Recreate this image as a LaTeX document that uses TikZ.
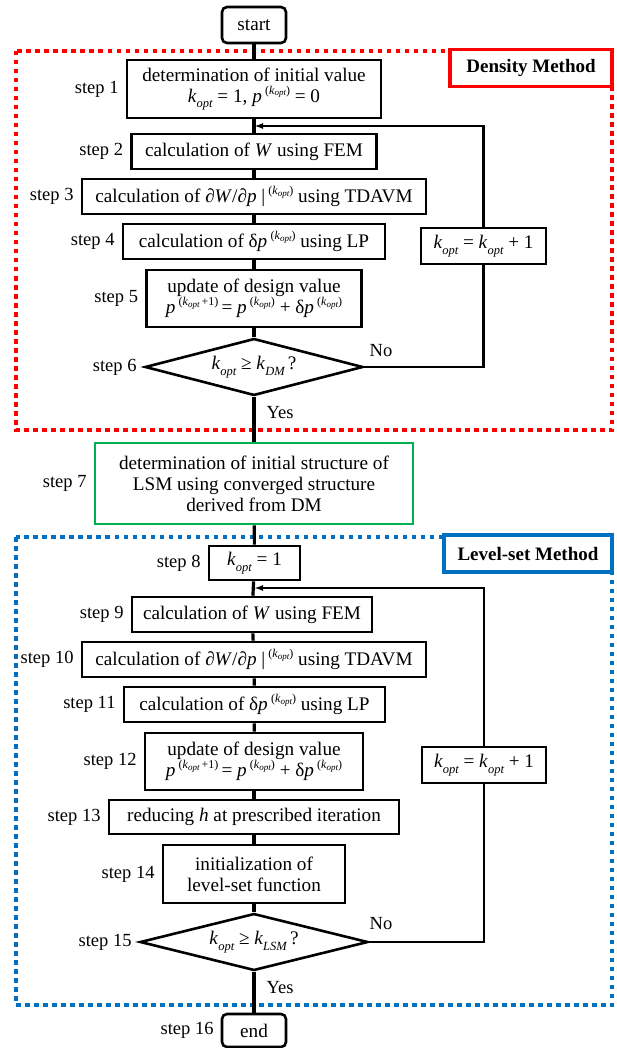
\documentclass[tikz,border=0pt]{standalone}
\usepackage{fontspec}
\setmainfont{Liberation Serif}
\usetikzlibrary{shapes.geometric,arrows.meta}
\definecolor{dmred}{RGB}{255,0,0}
\definecolor{lsblue}{RGB}{0,112,192}
\definecolor{lsgreen}{RGB}{0,176,80}
\newcommand\mysub[1]{\raisebox{-0.28em}{\fontsize{12.5}{12.5}\selectfont\itshape #1}}
\newcommand\kk{\textit{k}\mysub{opt}}
\newcommand\supk{\,\raisebox{0.42em}{\fontsize{12}{12}\selectfont(\textit{k}\raisebox{-0.15em}{\fontsize{9}{9}\selectfont\itshape opt})}}
\newcommand\supkp{\,\raisebox{0.42em}{\fontsize{12}{12}\selectfont(\textit{k}\raisebox{-0.15em}{\fontsize{9}{9}\selectfont\itshape opt}\,+1)}}
\tikzset{
  base/.style={font=\fontsize{19.2}{22}\selectfont},
  box/.style={base, draw, line width=2.6pt, fill=white, align=center, inner sep=0pt},
  term/.style={box, rounded corners=5pt},
  dec/.style={base, draw, line width=2.6pt, fill=white, diamond, aspect=3.8, inner sep=0pt},
  lbl/.style={font=\fontsize{18.5}{22}\selectfont, inner sep=0pt},
  mainline/.style={line width=3.2pt},
  loopline/.style={line width=2.4pt},
  tag/.style={fill=white, line width=3.5pt, minimum width=#1, minimum height=37, font=\bfseries\fontsize{19}{22}\selectfont, inner sep=0pt}
}
\begin{document}
\begin{tikzpicture}[x=1pt,y=-1pt]
\useasboundingbox (0,0) rectangle (616,1048);
% dotted regions
\draw[dmred, line width=4pt, dash pattern=on 4.5pt off 4.5pt] (16,51) rectangle (612,430);
\draw[lsblue, line width=4pt, dash pattern=on 4.5pt off 4.5pt] (16,537) rectangle (612,1005);

% nodes
\node[term, minimum width=64, minimum height=36] (start) at (254,25) {start};
\node[box, minimum width=254, minimum height=58] (s1) at (254,89) {determination of initial value\\[-1pt]\kk\ = 1, \textit{p}\supk\ = 0};
\node[box, minimum width=245, minimum height=35] (s2) at (254,151.5) {calculation of \textit{W} using FEM};
\node[box, minimum width=344, minimum height=35] (s3) at (254,196.5) {calculation of ∂\textit{W}/∂\textit{p} |\supk\ using TDAVM};
\node[box, minimum width=262, minimum height=35] (s4) at (254,241.5) {calculation of δ\textit{p}\supk\ using LP};
\node[box, minimum width=215, minimum height=57] (s5) at (254,298.5) {update of design value\\[-1pt]\textit{p}\supkp\,= \textit{p}\supk\ + δ\textit{p}\supk};
\node[dec, minimum width=218, minimum height=57] (d6) at (254,367) {\kk\ ≥ \textit{k}\mysub{DM}\,?};
\node[box, minimum width=125, minimum height=36] (k1) at (483.5,246) {\kk\ = \kk\ + 1};
\coordinate (c1) at (254,126);

\node[box, draw=lsgreen, minimum width=318, minimum height=81] (s7) at (254,483.5) {determination of initial structure of\\[-1pt]LSM using converged structure\\[-1pt]derived from DM};

\node[box, minimum width=91, minimum height=34] (s8) at (254.5,563) {\kk\ = 1};
\coordinate (c2) at (254,588);
\node[box, minimum width=240, minimum height=35] (s9) at (252,614.5) {calculation of \textit{W} using FEM};
\node[box, minimum width=344, minimum height=35] (s10) at (254,659.5) {calculation of ∂\textit{W}/∂\textit{p} |\supk\ using TDAVM};
\node[box, minimum width=261, minimum height=35] (s11) at (254.5,704.5) {calculation of δ\textit{p}\supk\ using LP};
\node[box, minimum width=218, minimum height=57] (s12) at (254,761.5) {update of design value\\[-1pt]\textit{p}\supkp\,= \textit{p}\supk\ + δ\textit{p}\supk};
\node[box, minimum width=290, minimum height=34] (s13) at (254,817) {reducing \textit{h} at prescribed iteration};
\node[box, minimum width=182, minimum height=58] (s14) at (254,874) {initialization of\\[-1pt]level-set function};
\node[dec, minimum width=228, minimum height=57] (d15) at (254,942) {\kk\ ≥ \textit{k}\mysub{LSM}\,?};
\node[box, minimum width=124, minimum height=36] (k2) at (484,765) {\kk\ = \kk\ + 1};
\node[term, minimum width=64, minimum height=33] (end) at (254,1030.5) {end};

% main flow
\draw[mainline] (start) -- (s1);
\draw[mainline] (s1) -- (s2);
\draw[mainline] (s2) -- (s3);
\draw[mainline] (s3) -- (s4);
\draw[mainline] (s4) -- (s5);
\draw[mainline] (s5) -- (d6);
\draw[mainline] (d6) -- (s7);
\draw[mainline] (s7) -- (s8);
\draw[mainline] (s8) -- (s9);
\draw[mainline] (s9) -- (s10);
\draw[mainline] (s10) -- (s11);
\draw[mainline] (s11) -- (s12);
\draw[mainline] (s12) -- (s13);
\draw[mainline] (s13) -- (s14);
\draw[mainline] (s14) -- (d15);
\draw[mainline] (d15) -- (end);

% loops
\draw[loopline] (d6.east) -| (k1.south);
\draw[loopline, -{Latex[length=9pt,width=6pt]}] (k1.north) |- (c1);
\draw[loopline] (d15.east) -| (k2.south);
\draw[loopline, -{Latex[length=9pt,width=6pt]}] (k2.north) |- (c2);

% branch labels
\node[lbl] (no1) at (381,351) {No};
\node[lbl] (yes1) at (280,413) {Yes};
\node[lbl] (no2) at (381,924) {No};
\node[lbl] (yes2) at (280,988) {Yes};

% step labels
\node[lbl, anchor=east] at ([xshift=-7pt]s1.west) {step 1};
\node[lbl, anchor=east] at ([xshift=-7pt]s2.west) {step 2};
\node[lbl, anchor=east] at ([xshift=-7pt]s3.west) {step 3};
\node[lbl, anchor=east] at ([xshift=-7pt]s4.west) {step 4};
\node[lbl, anchor=east] at ([xshift=-7pt]s5.west) {step 5};
\node[lbl, anchor=east] at ([xshift=-7pt]d6.west) {step 6};
\node[lbl, anchor=east] at ([xshift=-7pt]s7.west) {step 7};
\node[lbl, anchor=east] at ([xshift=-7pt]s8.west) {step 8};
\node[lbl, anchor=east] at ([xshift=-7pt]s9.west) {step 9};
\node[lbl, anchor=east] at ([xshift=-7pt]s10.west) {step 10};
\node[lbl, anchor=east] at ([xshift=-7pt]s11.west) {step 11};
\node[lbl, anchor=east] at ([xshift=-7pt]s12.west) {step 12};
\node[lbl, anchor=east] at ([xshift=-7pt]s13.west) {step 13};
\node[lbl, anchor=east] at ([xshift=-7pt]s14.west) {step 14};
\node[lbl, anchor=east] at ([xshift=-7pt]d15.west) {step 15};
\node[lbl, anchor=east] at ([xshift=-7pt]end.west) {step 16};

% method tags
\node[tag=162, draw=dmred] (tdm) at (531,68) {Density Method};
\node[tag=168, draw=lsblue] (tls) at (528,553.5) {Level-set Method};
\end{tikzpicture}
\end{document}
